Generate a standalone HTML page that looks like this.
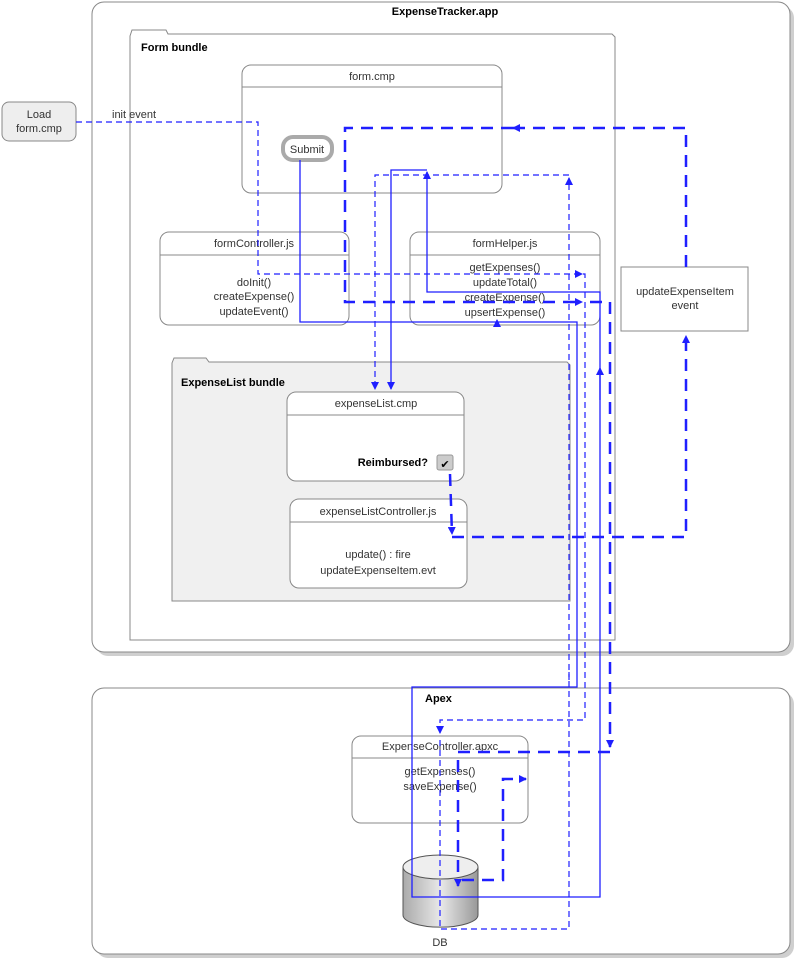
<!DOCTYPE html>
<html><head><meta charset="utf-8"><style>
body{margin:0;background:#fff;}
svg{display:block;font-family:"Liberation Sans",sans-serif;}
</style></head><body>
<svg width="800" height="964" viewBox="0 0 800 964" xmlns="http://www.w3.org/2000/svg">
<defs>
<marker id="a" markerWidth="8" markerHeight="8" refX="7" refY="4" orient="auto" markerUnits="userSpaceOnUse"><path d="M0,0 L8,4 L0,8 z" fill="#1f1fff"/></marker>
<linearGradient id="cyl" x1="0" x2="1"><stop offset="0" stop-color="#aaa"/><stop offset="0.5" stop-color="#e8e8e8"/><stop offset="1" stop-color="#999"/></linearGradient>
</defs>
<rect x="96" y="6" width="698" height="650" rx="12" fill="#cfcfcf"/>
<rect x="92" y="2" width="698" height="650" rx="12" fill="#fff" stroke="#888"/>
<text x="445" y="15" font-size="11" font-weight="bold" text-anchor="middle">ExpenseTracker.app</text>
<path d="M130,36 L132,30 L166,30 L168,34 L612,34 L615,37 L615,640 L130,640 Z" fill="#fff" stroke="#888"/>
<text x="141" y="51" font-size="11" font-weight="bold">Form bundle</text>
<rect x="242" y="65" width="260" height="128" rx="9" fill="#fff" stroke="#888"/>
<text x="372" y="80" font-size="11" text-anchor="middle" fill="#333">form.cmp</text>
<line x1="242" y1="87" x2="502" y2="87" stroke="#888"/>
<rect x="283" y="137" width="49" height="23" rx="10" fill="#fff" stroke="#aaa" stroke-width="4"/>
<text x="307" y="153" font-size="11" text-anchor="middle" fill="#333">Submit</text>
<rect x="2" y="102" width="74" height="39" rx="7" fill="#eee" stroke="#888"/>
<text x="39" y="118" font-size="11" text-anchor="middle" fill="#333">Load</text>
<text x="39" y="132" font-size="11" text-anchor="middle" fill="#333">form.cmp</text>
<text x="112" y="118" font-size="11" fill="#333">init event</text>
<rect x="160" y="232" width="189" height="93" rx="9" fill="#fff" stroke="#888"/>
<text x="254" y="247" font-size="11" text-anchor="middle" fill="#333">formController.js</text>
<line x1="160" y1="255" x2="349" y2="255" stroke="#888"/>
<text x="254" y="286" font-size="11" text-anchor="middle" fill="#333">doInit()</text>
<text x="254" y="300" font-size="11" text-anchor="middle" fill="#333">createExpense()</text>
<text x="254" y="315" font-size="11" text-anchor="middle" fill="#333">updateEvent()</text>
<rect x="410" y="232" width="190" height="93" rx="9" fill="#fff" stroke="#888"/>
<text x="505" y="247" font-size="11" text-anchor="middle" fill="#333">formHelper.js</text>
<line x1="410" y1="255" x2="600" y2="255" stroke="#888"/>
<text x="505" y="271" font-size="11" text-anchor="middle" fill="#333">getExpenses()</text>
<text x="505" y="286" font-size="11" text-anchor="middle" fill="#333">updateTotal()</text>
<text x="505" y="301" font-size="11" text-anchor="middle" fill="#333">createExpense()</text>
<text x="505" y="316" font-size="11" text-anchor="middle" fill="#333">upsertExpense()</text>
<rect x="621" y="267" width="127" height="64" fill="#fff" stroke="#888"/>
<text x="685" y="295" font-size="11" text-anchor="middle" fill="#333">updateExpenseItem</text>
<text x="685" y="309" font-size="11" text-anchor="middle" fill="#333">event</text>
<path d="M172,363 L174,358 L206,358 L209,362 L567,362 L570,365 L570,601 L172,601 Z" fill="#f0f0f0" stroke="#888"/>
<text x="181" y="386" font-size="11" font-weight="bold">ExpenseList bundle</text>
<rect x="287" y="392" width="177" height="89" rx="9" fill="#fff" stroke="#888"/>
<text x="376" y="407" font-size="11" text-anchor="middle" fill="#333">expenseList.cmp</text>
<line x1="287" y1="415" x2="464" y2="415" stroke="#888"/>
<text x="428" y="466" font-size="11" font-weight="bold" text-anchor="end">Reimbursed?</text>
<rect x="437" y="455" width="16" height="15" rx="2" fill="#ccc" stroke="#999"/>
<text x="445" y="468" font-size="11" text-anchor="middle">✔</text>
<rect x="290" y="499" width="177" height="89" rx="9" fill="#fff" stroke="#888"/>
<text x="378" y="515" font-size="11" text-anchor="middle" fill="#333">expenseListController.js</text>
<line x1="290" y1="522" x2="467" y2="522" stroke="#888"/>
<text x="378" y="558" font-size="11" text-anchor="middle" fill="#333">update() : fire</text>
<text x="378" y="574" font-size="11" text-anchor="middle" fill="#333">updateExpenseItem.evt</text>
<rect x="96" y="692" width="698" height="266" rx="12" fill="#cfcfcf"/>
<rect x="92" y="688" width="698" height="266" rx="12" fill="#fff" stroke="#888"/>
<text x="425" y="702" font-size="11" font-weight="bold">Apex</text>
<rect x="352" y="736" width="176" height="87" rx="9" fill="#fff" stroke="#888"/>
<text x="440" y="750" font-size="11" text-anchor="middle" fill="#333">ExpenseController.apxc</text>
<line x1="352" y1="758" x2="528" y2="758" stroke="#888"/>
<text x="440" y="775" font-size="11" text-anchor="middle" fill="#333">getExpenses()</text>
<text x="440" y="790" font-size="11" text-anchor="middle" fill="#333">saveExpense()</text>
<path d="M403,867 L403,915 A37,12 0 0 0 478,915 L478,867" fill="url(#cyl)" stroke="#555"/>
<ellipse cx="440.5" cy="867" rx="37.5" ry="12" fill="#eee" stroke="#555"/>
<text x="440" y="946" font-size="11" text-anchor="middle" fill="#333">DB</text>

<g fill="none" stroke="#1f1fff">
<g stroke-width="1.2" stroke-dasharray="6,4">
<path d="M76,122 L258,122 L258,274 L582,274" marker-end="url(#a)"/>
<path d="M583,274 L585,274 L585,720 L440,720 L440,733" marker-end="url(#a)"/>
<path d="M440,740 L440,929 L569,929 L569,672"/>
<path d="M569,680 L569,178" marker-end="url(#a)"/>
<path d="M569,175 L375,175 L375,389" marker-end="url(#a)"/>
</g>
<g stroke-width="1.3">
<path d="M300,160 L300,322 L577,322 L577,687 L412,687 L412,897 L600,897 L600,292 L427,292 L427,172" marker-end="url(#a)"/>
<path d="M600,400 L600,368" marker-end="url(#a)"/>
<path d="M427,170 L391,170 L391,389" marker-end="url(#a)"/>
<path d="M497,323 L497,320" marker-end="url(#a)"/>
</g>
<g stroke-width="2.5" stroke-dasharray="12,8">
<path d="M450,474 L452,534" marker-end="url(#a)"/>
<path d="M452,537 L686,537 L686,336" marker-end="url(#a)"/>
<path d="M686,267 L686,128 L513,128" marker-end="url(#a)"/>
<path d="M513,128 L345,128 L345,302 L582,302" marker-end="url(#a)"/>
<path d="M590,302 L610,302 L610,747" marker-end="url(#a)"/>
<path d="M610,752 L458,752 L458,886" marker-end="url(#a)"/>
<path d="M462,880 L503,880 L503,779 L526,779" marker-end="url(#a)"/>
</g>
</g>
</svg>
</body></html>
